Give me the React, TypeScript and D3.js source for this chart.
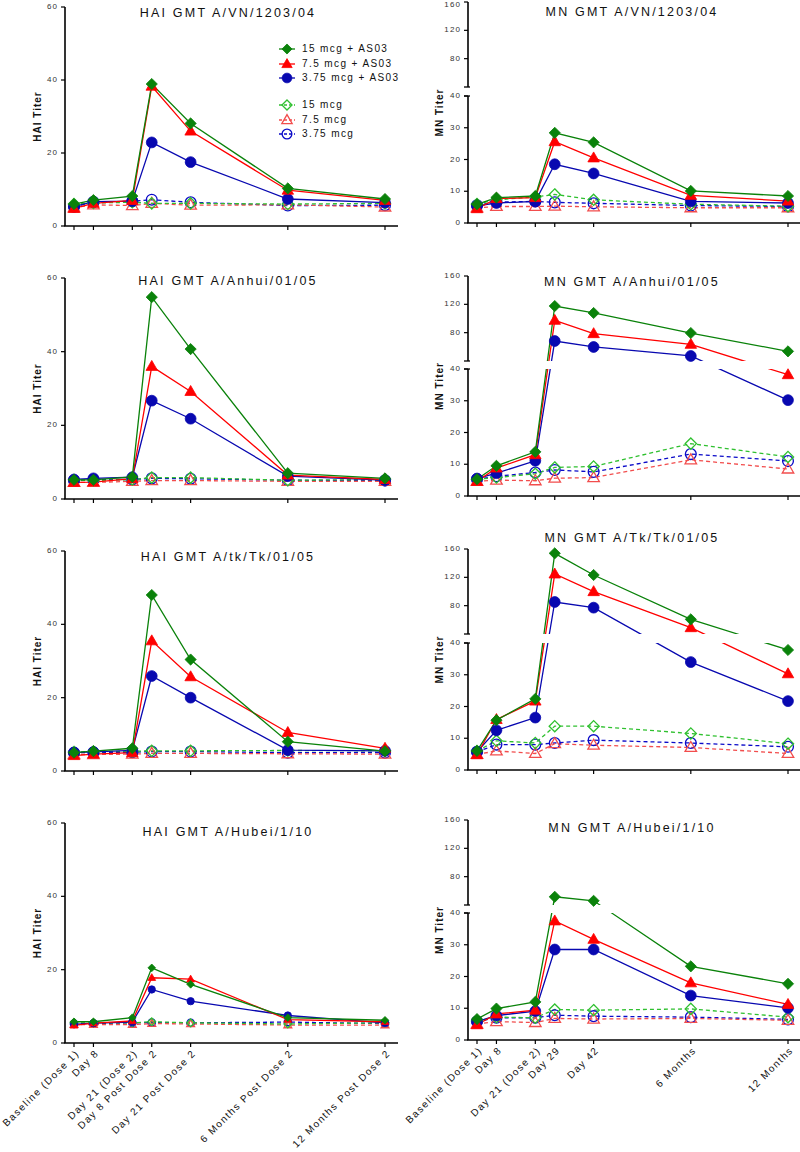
import React from 'react';
import * as d3 from 'd3';

// ---------- data ----------
const TIMEPOINTS_WEEKS = [0, 1, 3, 4, 6, 11, 16];
const HAI_LABELS = ['Baseline (Dose 1)', 'Day 8', 'Day 21 (Dose 2)', 'Day 8 Post Dose 2', 'Day 21 Post Dose 2', '6 Months Post Dose 2', '12 Months Post Dose 2'];
const MN_LABELS = ['Baseline (Dose 1)', 'Day 8', 'Day 21 (Dose 2)', 'Day 29', 'Day 42', '6 Months', '12 Months'];
const GROUPS = ['15 mcg + AS03', '7.5 mcg + AS03', '3.75 mcg + AS03', '15 mcg', '7.5 mcg', '3.75 mcg'];
const HAI_TICKS = [0, 20, 40, 60];
const MN_LOWER_TICKS = [0, 10, 20, 30, 40];
const MN_UPPER_TICKS = [80, 120, 160];
const TITLES_HAI = ['HAI GMT A/VN/1203/04', 'HAI GMT A/Anhui/01/05', 'HAI GMT A/tk/Tk/01/05', 'HAI GMT A/Hubei/1/10'];
const TITLES_MN = ['MN GMT A/VN/1203/04', 'MN GMT A/Anhui/01/05', 'MN GMT A/Tk/Tk/01/05', 'MN GMT A/Hubei/1/10'];

// rows: 15+AS03, 7.5+AS03, 3.75+AS03, 15, 7.5, 3.75
const HAI_VN = [
  [6.0, 7.1, 8.2, 38.9, 28.1, 10.3, 7.4],
  [4.8, 6.2, 7.0, 38.3, 26.0, 9.8, 7.0],
  [5.3, 6.7, 6.8, 22.9, 17.5, 7.4, 6.4],
  [6.0, 6.3, 6.5, 6.2, 6.2, 6.0, 6.2],
  [5.0, 5.8, 5.6, 6.2, 5.7, 5.8, 5.2],
  [5.3, 6.5, 6.8, 7.2, 6.5, 5.6, 5.7],
];
const MN_VN = [
  [5.9, 8.0, 8.5, 28.4, 25.4, 10.1, 8.5],
  [4.5, 7.7, 8.0, 25.6, 20.5, 8.7, 6.9],
  [5.4, 6.3, 6.8, 18.5, 15.6, 6.8, 6.3],
  [6.0, 7.3, 8.2, 9.0, 7.3, 5.9, 5.3],
  [4.8, 5.2, 5.2, 5.3, 5.1, 4.8, 4.8],
  [5.6, 6.6, 6.8, 6.5, 6.2, 5.5, 5.2],
];
const HAI_ANHUI = [
  [5.2, 5.2, 6.0, 54.8, 40.7, 7.0, 5.6],
  [4.5, 4.6, 5.5, 36.0, 29.2, 6.5, 5.3],
  [5.3, 5.6, 5.9, 26.7, 21.8, 6.2, 5.1],
  [5.2, 5.0, 5.3, 5.8, 5.8, 5.1, 5.3],
  [4.5, 4.5, 4.8, 5.0, 5.0, 4.8, 4.8],
  [5.0, 5.2, 5.3, 5.6, 5.5, 5.1, 5.0],
];
const MN_ANHUI = [
  [5.3, 9.5, 13.9, 117.6, 107.8, 79.5, 53.6],
  [4.6, 8.8, 13.0, 97.4, 78.6, 63.5, 38.2],
  [5.5, 7.2, 11.1, 68.2, 59.8, 47.1, 30.2],
  [5.3, 5.8, 7.0, 9.0, 9.3, 16.5, 12.3],
  [4.6, 5.0, 4.8, 5.6, 5.8, 11.4, 8.5],
  [5.3, 6.2, 7.4, 8.2, 7.6, 13.2, 11.0],
];
const HAI_TK = [
  [5.0, 5.4, 6.2, 48.0, 30.4, 8.0, 5.4],
  [4.2, 4.6, 5.0, 35.5, 25.7, 10.5, 6.2],
  [5.0, 5.2, 5.6, 25.9, 20.0, 5.7, 5.5],
  [5.2, 5.3, 5.4, 5.5, 5.5, 5.6, 5.5],
  [4.5, 4.5, 4.6, 4.8, 4.8, 4.7, 4.6],
  [5.0, 5.0, 5.1, 5.3, 5.3, 5.0, 5.0],
];
const MN_TK = [
  [6.0, 15.7, 22.4, 153.9, 123.3, 60.7, 37.8],
  [4.8, 15.9, 21.7, 124.7, 99.8, 48.9, 30.3],
  [5.7, 12.5, 16.5, 85.2, 77.2, 34.0, 21.7],
  [6.0, 9.2, 8.5, 13.8, 13.8, 11.5, 8.3],
  [4.9, 6.0, 5.2, 8.3, 7.8, 7.1, 5.2],
  [5.7, 8.0, 8.0, 8.5, 9.4, 8.5, 7.3],
];
const HAI_HUBEI = [
  [5.8, 5.8, 6.9, 20.5, 16.0, 6.9, 6.2],
  [4.8, 5.4, 6.0, 17.8, 17.4, 6.4, 5.8],
  [5.1, 5.4, 5.7, 14.6, 11.4, 7.5, 5.5],
  [5.5, 5.5, 5.5, 5.8, 5.5, 5.2, 5.5],
  [5.0, 5.0, 5.0, 5.3, 5.2, 4.9, 4.9],
  [5.3, 5.3, 5.5, 5.6, 5.5, 5.7, 5.3],
];
const MN_HUBEI = [
  [6.6, 9.9, 12.0, 51.6, 45.9, 23.2, 17.7],
  [4.8, 8.2, 9.4, 37.5, 31.7, 18.0, 11.2],
  [5.8, 7.7, 9.1, 28.5, 28.5, 14.0, 10.1],
  [6.0, 7.2, 7.0, 9.6, 9.4, 9.8, 7.2],
  [5.0, 5.8, 5.5, 6.8, 6.6, 6.8, 6.2],
  [5.8, 7.0, 7.0, 7.8, 7.5, 7.2, 6.5],
];

const HAI_DATA = [HAI_VN, HAI_ANHUI, HAI_TK, HAI_HUBEI];
const MN_DATA = [MN_VN, MN_ANHUI, MN_TK, MN_HUBEI];

// ---------- styles / layout ----------
const STYLES = [
  { color: '#0a820a', shape: 'diamond', filled: true, dashed: false },
  { color: '#ff0000', shape: 'triangle', filled: true, dashed: false },
  { color: '#0808b0', shape: 'circle', filled: true, dashed: false },
  { color: '#2fc02f', shape: 'diamond', filled: false, dashed: true },
  { color: '#f24d4d', shape: 'triangle', filled: false, dashed: true },
  { color: '#0a0ac8', shape: 'circle', filled: false, dashed: true },
];
const DRAW_ORDER = [5, 4, 3, 2, 1, 0];
const LEFT_ROWS = [
  { top: 7, bottom: 226, titleY: 14 },
  { top: 278, bottom: 499, titleY: 282 },
  { top: 551, bottom: 771, titleY: 558 },
  { top: 823, bottom: 1043, titleY: 833 },
];
const RIGHT_ROWS = [
  { top: 2, bottom: 223, titleY: 13 },
  { top: 276, bottom: 496, titleY: 283 },
  { top: 549, bottom: 770, titleY: 539 },
  { top: 820, bottom: 1040, titleY: 829 },
];
const FONT = "'Liberation Sans', Arial, Helvetica, sans-serif";

function markerPath(shape: string, cx: number, cy: number, s: number): string {
  if (shape === 'diamond') {
    const h = 5.6 * s;
    return `M${cx},${cy - h}L${cx + h},${cy}L${cx},${cy + h}L${cx - h},${cy}Z`;
  }
  if (shape === 'triangle') {
    const a = 11.5 * s;
    const h = a * 0.866;
    return `M${cx},${cy - h * 0.6}L${cx + a / 2},${cy + h * 0.4}L${cx - a / 2},${cy + h * 0.4}Z`;
  }
  const r = 5.4 * s;
  return `M${cx - r},${cy}a${r},${r} 0 1,0 ${2 * r},0a${r},${r} 0 1,0 ${-2 * r},0Z`;
}

function Marker({ i, cx, cy, s }: { i: number; cx: number; cy: number; s: number }) {
  const st = STYLES[i];
  return (
    <path
      d={markerPath(st.shape, cx, cy, s)}
      fill={st.filled ? st.color : 'none'}
      stroke={st.color}
      strokeWidth={st.filled ? 0.8 : 1.3}
    />
  );
}

function Panel({ kind, row }: { kind: 'HAI' | 'MN'; row: number }) {
  const isHAI = kind === 'HAI';
  const ax = isHAI ? 65 : 468;
  const g = isHAI ? LEFT_ROWS[row] : RIGHT_ROWS[row];
  const data = isHAI ? HAI_DATA[row] : MN_DATA[row];
  const title = isHAI ? TITLES_HAI[row] : TITLES_MN[row];
  const labels = isHAI ? HAI_LABELS : MN_LABELS;
  const showX = row === 3;
  const ms = isHAI && row === 3 ? 0.68 : 1;
  const x = d3.scaleLinear().domain([0, 16]).range([ax + 9, ax + 320]);
  const axisEnd = ax + 333;

  let yf: (v: number) => number;
  const ticks: { v: number; y: number }[] = [];
  let axisSegs: [number, number][] = [];
  let upper40 = 0;
  let lower40 = 0;
  if (isHAI) {
    const y = d3.scaleLinear().domain([0, 60]).range([g.bottom, g.top]);
    yf = (v) => y(v);
    HAI_TICKS.forEach((v) => ticks.push({ v, y: y(v) }));
    axisSegs = [[g.top, g.bottom]];
  } else {
    const lower = d3.scaleLinear().domain([0, 40]).range([g.bottom, g.bottom - 127]);
    const upper = d3.scaleLinear().domain([40, 160]).range([g.top + 85, g.top]);
    yf = (v) => (v <= 40 ? lower(v) : upper(v));
    MN_LOWER_TICKS.forEach((v) => ticks.push({ v, y: lower(v) }));
    MN_UPPER_TICKS.forEach((v) => ticks.push({ v, y: upper(v) }));
    upper40 = upper(40);
    lower40 = lower(40);
    axisSegs = [[g.top, upper40], [lower40, g.bottom]];
  }

  const line = d3
    .line<number>()
    .x((_, i) => x(TIMEPOINTS_WEEKS[i]))
    .y((d) => yf(d));

  const clipId = `clip-${kind}-${row}`;
  const labelX = isHAI ? 38 : 440;
  const titleX = isHAI ? 228 : 632;

  return (
    <g>
      {!isHAI && (
        <defs>
          <clipPath id={clipId}>
            <rect x={0} y={g.top - 30} width={800} height={upper40 - g.top + 30} />
            <rect x={0} y={lower40} width={800} height={g.bottom - lower40 + 30} />
          </clipPath>
        </defs>
      )}
      {/* title */}
      <text x={titleX} y={g.titleY} textAnchor="middle" dominantBaseline="middle" fontSize={12.5} letterSpacing={2.2} fill="#111" fontFamily={FONT}>
        {title}
      </text>
      {/* y label */}
      <text
        transform={`translate(${labelX},${(g.top + g.bottom) / 2}) rotate(-90)`}
        textAnchor="middle"
        dominantBaseline="middle"
        fontSize={10}
        fontWeight="bold"
        letterSpacing={1}
        fill="#111"
        fontFamily={FONT}
      >
        {isHAI ? 'HAI Titer' : 'MN Titer'}
      </text>
      {/* y axis */}
      {axisSegs.map(([a, b], k) => (
        <line key={k} x1={ax} x2={ax} y1={a} y2={b} stroke="#000" strokeWidth={1.6} />
      ))}
      {!isHAI && (
        <g stroke="#000" strokeWidth={1.3}>
          <line x1={ax - 4} x2={ax + 2} y1={upper40} y2={upper40} />
          <line x1={ax - 4} x2={ax + 2} y1={lower40} y2={lower40} />
        </g>
      )}
      {ticks.map((t) => (
        <g key={t.v}>
          <line x1={ax - 4} x2={ax} y1={t.y} y2={t.y} stroke="#000" strokeWidth={1.2} />
          <text x={ax - 7} y={Math.max(t.y, 4.5)} textAnchor="end" dominantBaseline="middle" fontSize={8} letterSpacing={1.1} fill="#333" fontFamily={FONT}>
            {t.v}
          </text>
        </g>
      ))}
      {/* x axis */}
      <line x1={ax - 0.8} x2={axisEnd} y1={g.bottom} y2={g.bottom} stroke="#000" strokeWidth={1.6} />
      {TIMEPOINTS_WEEKS.map((w, i) => (
        <line key={i} x1={x(w)} x2={x(w)} y1={g.bottom} y2={g.bottom + 4} stroke="#000" strokeWidth={1.2} />
      ))}
      {showX &&
        TIMEPOINTS_WEEKS.map((w, i) => (
          <text
            key={i}
            transform={`translate(${x(w) + 4},${g.bottom + 9}) rotate(-45)`}
            textAnchor="end"
            dominantBaseline="middle"
            fontSize={10}
            letterSpacing={1.4}
            fill="#111"
            fontFamily={FONT}
          >
            {labels[i]}
          </text>
        ))}
      {/* lines */}
      <g clipPath={isHAI ? undefined : `url(#${clipId})`}>
        {DRAW_ORDER.map((si) => (
          <path
            key={si}
            d={line(data[si]) || ''}
            fill="none"
            stroke={STYLES[si].color}
            strokeWidth={1.3}
            strokeDasharray={STYLES[si].dashed ? '4,3' : undefined}
          />
        ))}
      </g>
      {/* markers */}
      {DRAW_ORDER.map((si) => (
        <g key={si}>
          {data[si].map((v, i) => (
            <Marker key={i} i={si} cx={x(TIMEPOINTS_WEEKS[i])} cy={yf(v)} s={ms} />
          ))}
        </g>
      ))}
    </g>
  );
}

const LEGEND_Y = [49, 64, 78, 105, 120, 134];

function Legend() {
  return (
    <g>
      {GROUPS.map((name, i) => (
        <g key={name}>
          <line x1={279} x2={295} y1={LEGEND_Y[i]} y2={LEGEND_Y[i]} stroke={STYLES[i].color} strokeWidth={1.3} strokeDasharray={STYLES[i].dashed ? '3,2' : undefined} />
          <Marker i={i} cx={287} cy={LEGEND_Y[i]} s={0.9} />
          <text x={302} y={LEGEND_Y[i]} dominantBaseline="middle" fontSize={10} letterSpacing={1.4} fill="#111" fontFamily={FONT}>
            {name}
          </text>
        </g>
      ))}
    </g>
  );
}

export default function App() {
  return (
    <svg width={800} height={1152} style={{ position: 'absolute', left: 0, top: 0, background: '#fff' }}>
      <rect x={0} y={0} width={800} height={1152} fill="#fff" />
      {[0, 1, 2, 3].map((r) => (
        <Panel key={`h${r}`} kind="HAI" row={r} />
      ))}
      {[0, 1, 2, 3].map((r) => (
        <Panel key={`m${r}`} kind="MN" row={r} />
      ))}
      <Legend />
    </svg>
  );
}
